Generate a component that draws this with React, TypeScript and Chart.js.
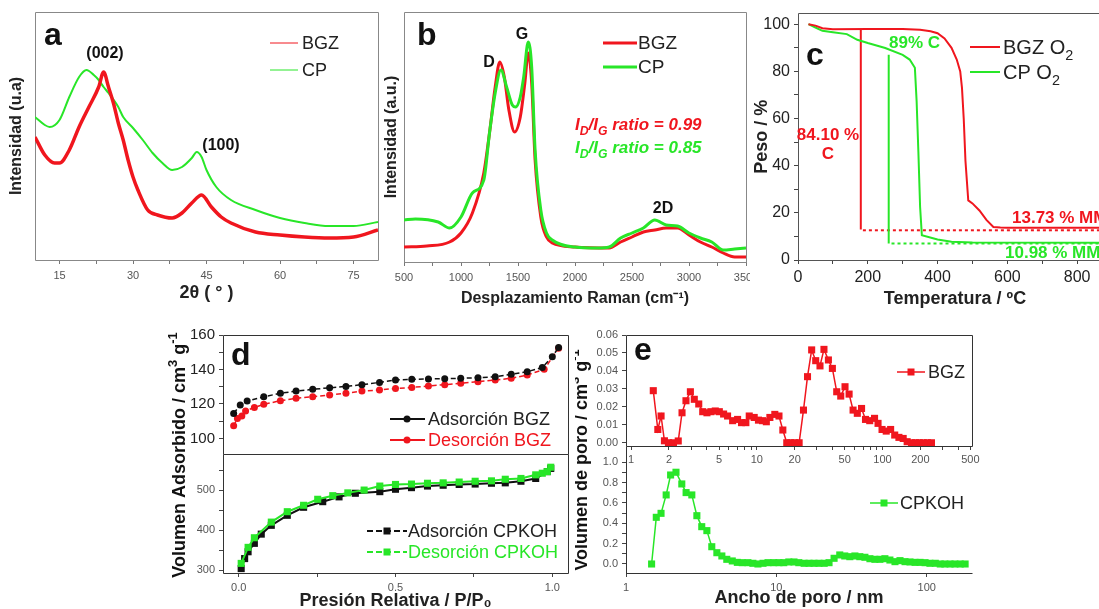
import React, { useEffect, useRef } from 'react';
import { Chart, registerables } from 'chart.js';
Chart.register(...registerables);

const FONT = "'Liberation Sans', Arial, Helvetica, sans-serif";
Chart.defaults.font.family = FONT;
Chart.defaults.color = '#222';

const RED = 'rgb(240,22,30)';
const GREEN = 'rgb(40,230,40)';
const BLACK = '#111';

// ---------- (a) XRD ----------
const xrdBgzAngle = [10, 12, 14, 15, 17, 19, 21, 23, 24, 25, 26, 27, 28, 29, 30, 31, 33, 35, 38, 40, 42, 44, 46, 48, 50, 55, 60, 65, 70, 75, 80];
const xrdBgzIntensity = [123, 105, 97, 97, 110, 133, 153, 173, 188, 173, 157, 137, 120, 100, 83, 70, 50, 45, 42, 47, 57, 65, 53, 43, 37, 28, 25, 23, 22, 23, 30];
const xrdCpAngle = [10, 12, 13, 15, 17, 19, 20.5, 22, 23, 24, 25, 27, 28, 30, 32, 34, 36, 38, 40, 42, 43, 44, 45, 47, 50, 55, 60, 65, 70, 75, 80];
const xrdCpIntensity = [143, 135, 133, 140, 163, 183, 190, 185, 180, 173, 167, 153, 143, 132, 120, 107, 97, 90, 93, 102, 108, 103, 90, 73, 60, 50, 42, 37, 34, 34, 38];
const xrdTicks = [15, 22.5, 30, 37.5, 45, 52.5, 60, 67.5, 75];
const xrdLabels = [15, 30, 45, 60, 75];

// ---------- (b) Raman ----------
const ramanBgzShift = [500, 700, 900, 1000, 1100, 1200, 1250, 1300, 1340, 1380, 1420, 1470, 1520, 1560, 1590, 1620, 1650, 1700, 1750, 1800, 2000, 2300, 2400, 2500, 2600, 2700, 2800, 2900, 3000, 3100, 3200, 3300, 3400, 3500];
const ramanBgzIntensity = [15, 16, 20, 29, 49, 89, 129, 175, 200, 185, 152, 130, 145, 179, 209, 179, 102, 45, 25, 19, 15, 14, 20, 25, 30, 32, 34, 34, 27, 20, 15, 9, 5, 5];
const ramanCpShift = [500, 600, 800, 900, 1000, 1100, 1200, 1250, 1300, 1350, 1400, 1450, 1480, 1520, 1550, 1590, 1620, 1650, 1700, 1750, 1800, 2000, 2200, 2300, 2400, 2500, 2600, 2700, 2800, 2900, 3000, 3100, 3200, 3300, 3400, 3500];
const ramanCpIntensity = [42, 43, 40, 34, 45, 69, 82, 129, 169, 192, 175, 157, 155, 165, 185, 220, 195, 112, 52, 29, 22, 15, 14, 15, 24, 29, 34, 42, 37, 36, 29, 24, 20, 12, 13, 14];
const ramanTicks = [500, 750, 1000, 1250, 1500, 1750, 2000, 2250, 2500, 2750, 3000, 3250, 3500];
const ramanLabels = [500, 1000, 1500, 2000, 2500, 3000, 3500];

// ---------- (c) TGA ----------
const tgaBgzTemp = [30, 50, 70, 100, 200, 300, 350, 380, 400, 420, 440, 455, 465, 470, 475, 480, 488, 500, 520, 540, 560, 580, 600, 900];
const tgaBgzWeight = [100, 99.4, 98.3, 97.9, 98, 98, 97.6, 97, 96.2, 94, 90, 85, 80, 73, 60, 42, 25.3, 24, 21, 17, 14, 13.8, 13.7, 13.7];
const tgaCpTemp = [30, 50, 70, 100, 140, 170, 200, 250, 300, 320, 335, 340, 345, 350, 355, 400, 440, 500, 900];
const tgaCpWeight = [100, 98.6, 97.2, 96.6, 95.8, 93.4, 92, 89.9, 87, 85, 81.5, 67.4, 46, 22.5, 10.5, 8.7, 7.7, 7.4, 7.3];
const tgaBgzCarbonTemp = [180, 180];
const tgaBgzCarbonWeight = [97.6, 12.9];
const tgaBgzResidueTemp = [186, 900];
const tgaBgzResidueWeight = [12.6, 12.6];
const tgaCpCarbonTemp = [260, 260];
const tgaCpCarbonWeight = [87, 7];
const tgaCpResidueTemp = [268, 900];
const tgaCpResidueWeight = [7.0, 7.0];
const tgaXTicks = [0, 100, 200, 300, 400, 500, 600, 700, 800, 900];
const tgaXLabels = [0, 200, 400, 600, 800];
const tgaYTicks = [0, 10, 20, 30, 40, 50, 60, 70, 80, 90, 100];
const tgaYLabels = [0, 20, 40, 60, 80, 100];

// ---------- (d) isotherms ----------
const bgzAdsP = [-0.016, 0.005, 0.027, 0.08, 0.133, 0.183, 0.236, 0.29, 0.342, 0.393, 0.449, 0.5, 0.552, 0.605, 0.657, 0.708, 0.763, 0.818, 0.869, 0.92, 0.968, 1.0, 1.02];
const bgzAdsV = [114.5, 119.4, 121.7, 124.2, 126.2, 127.5, 128.5, 129.4, 130.2, 131.2, 132.5, 133.9, 134.3, 134.5, 134.7, 134.9, 135.2, 135.8, 137.2, 138.7, 141.2, 147.4, 152.8];
const bgzDesP = [-0.016, -0.004, 0.01, 0.022, 0.05, 0.08, 0.133, 0.183, 0.236, 0.29, 0.342, 0.393, 0.449, 0.5, 0.552, 0.605, 0.657, 0.708, 0.763, 0.818, 0.869, 0.92, 0.974, 1.02];
const bgzDesV = [107.4, 111.6, 113, 116, 118, 119.8, 121.9, 123.3, 124.2, 125.2, 126.2, 127.5, 128.1, 129, 129.6, 130.4, 131.2, 132, 132.9, 133.9, 134.9, 136.8, 140.1, 152.3];
const cpAdsP = [0.008, 0.019, 0.03, 0.05, 0.072, 0.104, 0.155, 0.207, 0.268, 0.32, 0.372, 0.45, 0.5, 0.551, 0.602, 0.652, 0.703, 0.754, 0.806, 0.85, 0.9, 0.947, 0.984, 0.995];
const cpAdsV = [304, 329, 346, 367, 390, 412, 437, 457, 471, 483, 492, 496, 502, 506, 510, 512, 514, 515, 517, 518, 522, 529, 546, 554];
const cpDesP = [0.008, 0.03, 0.05, 0.104, 0.155, 0.207, 0.252, 0.3, 0.348, 0.4, 0.45, 0.5, 0.551, 0.602, 0.652, 0.703, 0.754, 0.806, 0.85, 0.9, 0.947, 0.968, 0.984, 0.995];
const cpDesV = [317, 357, 381, 420, 446, 462, 477, 486, 493, 500, 510, 514, 515, 517, 518, 520, 522, 523, 527, 529, 538, 542, 546, 557];
const isoPTicks = [0, 0.25, 0.5, 0.75, 1.0];
const isoPLabels = [0, 0.5, 1.0];
const isoBgzTicks = [100, 110, 120, 130, 140, 150, 160];
const isoBgzLabels = [100, 120, 140, 160];
const isoCpTicks = [300, 350, 400, 450, 500, 550];
const isoCpLabels = [300, 400, 500];

// ---------- (e) pore size distribution ----------
const psdBgzWidth = [1.5, 1.63, 1.73, 1.84, 1.98, 2.17, 2.37, 2.54, 2.73, 2.96, 3.18, 3.45, 3.71, 4.01, 4.31, 4.67, 5.03, 5.44, 5.85, 6.42, 7.03, 7.55, 8.18, 8.7, 9.53, 10.3, 11.1, 11.9, 12.7, 13.9, 15.0, 16.1, 17.3, 18.6, 20.0, 21.7, 23.5, 25.3, 27.3, 29.4, 31.8, 34.2, 37.1, 39.9, 43.2, 46.5, 50.3, 54.2, 58.3, 63.0, 68.1, 73.2, 79.1, 86.4, 92.1, 99.1, 107, 116, 125, 135, 146, 157, 170, 183, 196, 211, 228, 245];
const psdBgzVolume = [0.029, 0.0074, 0.0149, 0.0011, 0, 0, 0.001, 0.0167, 0.0234, 0.0284, 0.0242, 0.0216, 0.0173, 0.0167, 0.0173, 0.0177, 0.0173, 0.016, 0.0149, 0.0123, 0.013, 0.0112, 0.0112, 0.0149, 0.0141, 0.0126, 0.0123, 0.0117, 0.0141, 0.0158, 0.0149, 0.0071, 0, 0, 0, 0, 0.0182, 0.0368, 0.0517, 0.0457, 0.0428, 0.052, 0.0461, 0.0414, 0.0284, 0.026, 0.0312, 0.0271, 0.0182, 0.0164, 0.0191, 0.013, 0.0123, 0.0136, 0.0108, 0.0074, 0.0065, 0.0074, 0.0043, 0.003, 0.0024, 0.0006, 0, 0, 0, 0, 0, 0];
const psdCpWidth = [1.48, 1.59, 1.71, 1.85, 1.98, 2.15, 2.35, 2.51, 2.74, 2.96, 3.19, 3.45, 3.72, 4.02, 4.34, 4.68, 5.09, 5.5, 5.93, 6.47, 6.98, 7.54, 8.15, 8.8, 9.6, 10.4, 11.2, 12.1, 13.1, 14.1, 15.3, 16.5, 17.8, 19.2, 20.8, 22.4, 24.2, 26.4, 28.5, 30.8, 33.3, 35.9, 38.8, 41.9, 45.2, 48.8, 52.7, 56.9, 61.5, 66.4, 71.7, 77.4, 83.6, 90.3, 97.5, 105, 114, 123, 132, 143, 154, 167, 180];
const psdCpVolume = [0, 0.459, 0.498, 0.679, 0.875, 0.902, 0.787, 0.702, 0.679, 0.475, 0.367, 0.328, 0.17, 0.111, 0.079, 0.046, 0.03, 0.016, 0.013, 0.013, 0.007, 0, 0.007, 0.013, 0.013, 0.013, 0.013, 0.02, 0.02, 0.013, 0.007, 0.007, 0.007, 0.007, 0.007, 0.013, 0.056, 0.089, 0.079, 0.072, 0.079, 0.072, 0.066, 0.052, 0.046, 0.046, 0.052, 0.039, 0.023, 0.033, 0.023, 0.02, 0.016, 0.016, 0.013, 0.007, 0.007, 0, 0, 0, 0, 0, 0];
const psdTopXTicks = [1, 2, 3, 4, 5, 6, 7, 8, 9, 10, 20, 30, 40, 50, 60, 70, 80, 90, 100, 200, 300, 400, 500];
const psdTopXLabels = [1, 2, 5, 10, 20, 50, 100, 200, 500];
const psdTopYTicks = [0, 0.01, 0.02, 0.03, 0.04, 0.05, 0.06];
const psdBotXTicks = [1, 10, 100];
const psdBotYTicks = [0, 0.1, 0.2, 0.3, 0.4, 0.5, 0.6, 0.7, 0.8, 0.9, 1.0];
const psdBotYLabels = [0, 0.2, 0.4, 0.6, 0.8, 1.0];

// ---------- helpers ----------
type Seg = { t: string; sub?: boolean; sup?: boolean };
type Item = any;

const T = (x: number, y: number, text: string | Seg[], size: number, color = '#222', o: any = {}): Item => ({
  kind: 'text', x, y, segs: typeof text === 'string' ? [{ t: text }] : text, size, color, ...o,
});
const L = (x1: number, y1: number, x2: number, y2: number, color: string, width: number, dash?: number[]): Item => ({ kind: 'line', x1, y1, x2, y2, color, width, dash });
const M = (x: number, y: number, style: 'circle' | 'rect', r: number, color: string): Item => ({ kind: 'marker', x, y, style, r, color });

function drawText(ctx: CanvasRenderingContext2D, it: any) {
  const f = (s: number) => `${it.italic ? 'italic ' : ''}${it.bold ? 'bold ' : ''}${s}px ${FONT}`;
  const parts = it.segs.map((s: Seg) => {
    const sz = s.sub || s.sup ? it.size * 0.72 : it.size;
    ctx.font = f(sz);
    return { ...s, sz, w: ctx.measureText(s.t).width };
  });
  const total = parts.reduce((a: number, p: any) => a + p.w, 0);
  ctx.save();
  ctx.translate(it.x, it.y);
  if (it.rot) ctx.rotate(-Math.PI / 2);
  ctx.fillStyle = it.color;
  ctx.textBaseline = it.rot ? 'middle' : 'alphabetic';
  ctx.textAlign = 'left';
  let x = it.align === 'center' ? -total / 2 : it.align === 'right' ? -total : 0;
  for (const p of parts) {
    ctx.font = f(p.sz);
    const dy = p.sub ? it.size * 0.28 : p.sup ? -it.size * 0.36 : 0;
    ctx.fillText(p.t, x, dy);
    x += p.w;
  }
  ctx.restore();
}

function annotPlugin(items: Item[], ox: number, oy: number) {
  return {
    id: 'annot',
    afterDraw(chart: any) {
      const ctx: CanvasRenderingContext2D = chart.ctx;
      ctx.save();
      ctx.translate(-ox, -oy);
      for (const it of items) {
        if (it.kind === 'line') {
          ctx.beginPath();
          ctx.strokeStyle = it.color;
          ctx.lineWidth = it.width;
          ctx.setLineDash(it.dash || []);
          ctx.moveTo(it.x1, it.y1);
          ctx.lineTo(it.x2, it.y2);
          ctx.stroke();
          ctx.setLineDash([]);
        } else if (it.kind === 'marker') {
          ctx.fillStyle = it.color;
          if (it.style === 'circle') {
            ctx.beginPath();
            ctx.arc(it.x, it.y, it.r, 0, Math.PI * 2);
            ctx.fill();
          } else {
            ctx.fillRect(it.x - it.r, it.y - it.r, it.r * 2, it.r * 2);
          }
        } else {
          drawText(ctx, it);
        }
      }
      ctx.restore();
    },
  };
}

function framePlugin(sides: string, color: string) {
  return {
    id: 'frame',
    beforeDatasetsDraw(chart: any) {
      const { ctx, chartArea: a } = chart;
      const al = (v: number) => Math.round(v - 0.5) + 0.5;
      const l = al(a.left), r = al(a.right), t = al(a.top), b = al(a.bottom);
      ctx.save();
      ctx.strokeStyle = color;
      ctx.lineWidth = 1;
      ctx.beginPath();
      if (sides.includes('t')) { ctx.moveTo(l, t); ctx.lineTo(r, t); }
      if (sides.includes('b')) { ctx.moveTo(l, b); ctx.lineTo(r, b); }
      if (sides.includes('l')) { ctx.moveTo(l, t); ctx.lineTo(l, b); }
      if (sides.includes('r')) { ctx.moveTo(r, t); ctx.lineTo(r, b); }
      ctx.stroke();
      ctx.restore();
    },
  };
}

function mkAxis(o: any) {
  const horiz = o.pos === 'bottom' || o.pos === 'top';
  const ax: any = {
    type: o.type || 'linear',
    position: o.pos,
    min: o.min,
    max: o.max,
    display: o.display !== false,
  };
  if (o.display === false) return ax;
  ax.afterFit = (s: any) => {
    if (horiz) s.height = o.size;
    else s.width = o.size;
  };
  if (o.ticks) {
    ax.afterBuildTicks = (s: any) => {
      s.ticks = o.ticks.map((v: number) => ({ value: v }));
    };
    ax.grid = { display: true, drawOnChartArea: false, drawTicks: true, tickLength: o.tickLen ?? 4, color: o.tickColor || '#444', tickColor: o.tickColor || '#444', lineWidth: 1 };
    ax.ticks = {
      autoSkip: false, maxRotation: 0, minRotation: 0, padding: o.pad ?? 4, color: o.color || '#222',
      font: { size: o.fontSize || 11 },
      callback: (v: any) => {
        const n = Number(v);
        return o.labels.some((l: number) => Math.abs(l - n) < 1e-9 * Math.max(1, Math.abs(l))) ? o.fmt(n) : '';
      },
    };
  } else {
    ax.grid = { display: false };
    ax.ticks = { display: false };
  }
  ax.border = { display: false };
  ax.title = o.title
    ? { display: true, text: o.title, color: '#222', font: { size: o.titleSize || 16, weight: 'bold' }, padding: o.titlePad || { top: 0, bottom: 0 } }
    : { display: false };
  return ax;
}

const pts = (xs: number[], ys: number[]) => xs.map((x, i) => ({ x, y: ys[i] }));
const ds = (xs: number[], ys: number[], color: string, width: number, extra: any = {}) => ({
  data: pts(xs, ys), borderColor: color, backgroundColor: color, borderWidth: width, pointRadius: 0, tension: 0, ...extra,
});

const baseOpts = (padding: any, scales: any) => ({
  responsive: false,
  animation: false,
  devicePixelRatio: 1,
  layout: { padding },
  plugins: { legend: { display: false }, tooltip: { enabled: false } },
  events: [],
  scales,
});

const str = (v: number) => String(v);

type Rect = { left: number; top: number; w: number; h: number };

// ---------- chart builders ----------
const rectA: Rect = { left: 0, top: 0, w: 380, h: 310 };
const buildA = (r: Rect) => ({
  type: 'line',
  data: {
    datasets: [
      ds(xrdBgzAngle, xrdBgzIntensity, RED, 3.5, { cubicInterpolationMode: 'monotone' }),
      ds(xrdCpAngle, xrdCpIntensity, GREEN, 2, { cubicInterpolationMode: 'monotone' }),
    ],
  },
  options: baseOpts({ top: 12, right: 2, left: 0, bottom: 0 }, {
    x: mkAxis({ pos: 'bottom', min: 10, max: 80, size: 50, ticks: xrdTicks, labels: xrdLabels, fmt: str, tickLen: 4, pad: 5, fontSize: 11, color: '#555', tickColor: '#777', title: '2θ ( ° )', titleSize: 18, titlePad: { top: 0, bottom: 6 } }),
    y: mkAxis({ pos: 'left', min: 0, max: 248, size: 35, title: 'Intensidad (u.a)', titleSize: 16, titlePad: { top: 7, bottom: 0 } }),
  }),
  plugins: [
    framePlugin('tlrb', '#888'),
    annotPlugin([
      T(44, 45, 'a', 32, '#111', { bold: true }),
      T(105, 58, '(002)', 16, '#111', { bold: true, align: 'center' }),
      T(221, 150, '(100)', 16, '#111', { bold: true, align: 'center' }),
      L(270, 43, 298, 43, RED, 1),
      T(302, 49, 'BGZ', 18),
      L(270, 70, 298, 70, GREEN, 1),
      T(302, 76, 'CP', 18),
    ], r.left, r.top),
  ],
});

const rectB: Rect = { left: 380, top: 0, w: 385, h: 310 };
const buildB = (r: Rect) => ({
  type: 'line',
  data: {
    datasets: [
      ds(ramanCpShift, ramanCpIntensity, GREEN, 3, { cubicInterpolationMode: 'monotone' }),
      ds(ramanBgzShift, ramanBgzIntensity, RED, 3, { cubicInterpolationMode: 'monotone' }),
    ],
  },
  options: baseOpts({ top: 12, right: 19, left: 0, bottom: 0 }, {
    x: mkAxis({ pos: 'bottom', min: 500, max: 3500, size: 48, ticks: ramanTicks, labels: ramanLabels, fmt: str, tickLen: 4, pad: 5, fontSize: 11, color: '#555', tickColor: '#777', title: 'Desplazamiento Raman (cm⁻¹)', titleSize: 16, titlePad: { top: 0, bottom: 1.5 } }),
    y: mkAxis({ pos: 'left', min: 0, max: 250, size: 24, title: 'Intensidad (a.u.)', titleSize: 16, titlePad: { top: 2.4, bottom: 0 } }),
  }),
  plugins: [
    framePlugin('tlrb', '#888'),
    annotPlugin([
      T(417, 45, 'b', 32, '#111', { bold: true }),
      T(489, 67, 'D', 16, '#111', { bold: true, align: 'center' }),
      T(522, 39, 'G', 16, '#111', { bold: true, align: 'center' }),
      T(663, 213, '2D', 16, '#111', { bold: true, align: 'center' }),
      L(603, 43, 637, 43, RED, 3),
      T(638, 49, 'BGZ', 19),
      L(603, 67, 637, 67, GREEN, 3),
      T(638, 73, 'CP', 19),
      T(575, 130, [{ t: 'I' }, { t: 'D', sub: true }, { t: '/I' }, { t: 'G', sub: true }, { t: ' ratio = 0.99' }], 17, RED, { bold: true, italic: true }),
      T(575, 153, [{ t: 'I' }, { t: 'D', sub: true }, { t: '/I' }, { t: 'G', sub: true }, { t: ' ratio = 0.85' }], 17, GREEN, { bold: true, italic: true }),
    ], r.left, r.top),
  ],
});

const rectC: Rect = { left: 750, top: 0, w: 370, h: 310 };
const buildC = (r: Rect) => ({
  type: 'line',
  data: {
    datasets: [
      ds(tgaBgzTemp, tgaBgzWeight, RED, 2),
      ds(tgaCpTemp, tgaCpWeight, GREEN, 2),
      ds(tgaBgzCarbonTemp, tgaBgzCarbonWeight, RED, 2),
      ds(tgaCpCarbonTemp, tgaCpCarbonWeight, GREEN, 2),
      ds(tgaBgzResidueTemp, tgaBgzResidueWeight, RED, 2, { borderDash: [3, 3] }),
      ds(tgaCpResidueTemp, tgaCpResidueWeight, GREEN, 2, { borderDash: [3, 3] }),
    ],
  },
  options: baseOpts({ top: 12, right: 8, left: 0, bottom: 0 }, {
    x: mkAxis({ pos: 'bottom', min: 0, max: 900, size: 50, ticks: tgaXTicks, labels: tgaXLabels, fmt: str, tickLen: 4, pad: 4, fontSize: 16, color: '#222', tickColor: '#444', title: 'Temperatura / ºC', titleSize: 18, titlePad: { top: 0, bottom: 0 } }),
    y: mkAxis({ pos: 'left', min: 0, max: 104.5, size: 48, ticks: tgaYTicks, labels: tgaYLabels, fmt: str, tickLen: 4, pad: 4, fontSize: 16, color: '#222', tickColor: '#444', title: 'Peso / %', titleSize: 18, titlePad: { top: 1.2, bottom: 0 } }),
  }),
  plugins: [
    framePlugin('tlrb', '#555'),
    annotPlugin([
      T(806, 65, 'c', 32, '#111', { bold: true }),
      T(828, 140, '84.10 %', 17, RED, { bold: true, align: 'center' }),
      T(828, 159, 'C', 17, RED, { bold: true, align: 'center' }),
      T(889, 48, '89% C', 17, GREEN, { bold: true }),
      T(1012, 223, '13.73 % MM', 17, RED, { bold: true }),
      T(1005, 258, '10.98 % MM', 17, GREEN, { bold: true }),
      L(970, 47, 1000, 47, RED, 2),
      T(1003, 54, [{ t: 'BGZ O' }, { t: '2', sub: true }], 20),
      L(970, 72, 1000, 72, GREEN, 2),
      T(1003, 79, [{ t: 'CP O' }, { t: '2', sub: true }], 20),
    ], r.left, r.top),
  ],
});

// taller canvas with bottom padding so the y-label padding does not shrink the plot
const rectDTop: Rect = { left: 160, top: 320, w: 415, h: 150 };
const buildDTop = (r: Rect) => ({
  type: 'line',
  data: {
    datasets: [
      ds(bgzAdsP, bgzAdsV, BLACK, 1.5, { borderDash: [5, 3], pointRadius: 3.5, pointStyle: 'circle', pointBorderWidth: 0 }),
      ds(bgzDesP, bgzDesV, RED, 1.5, { borderDash: [5, 3], pointRadius: 3.5, pointStyle: 'circle', pointBorderWidth: 0 }),
    ],
  },
  options: baseOpts({ top: 15, right: 7, left: 0, bottom: 16 }, {
    x: mkAxis({ pos: 'bottom', min: -0.05, max: 1.05, display: false }),
    y: mkAxis({ pos: 'left', min: 91, max: 160, size: 63, ticks: isoBgzTicks, labels: isoBgzLabels, fmt: str, tickLen: 4, pad: 4, fontSize: 15, color: '#222', tickColor: '#444' }),
  }),
  plugins: [
    framePlugin('tlrb', '#333'),
    annotPlugin([
      T(231, 365, 'd', 32, '#111', { bold: true }),
      L(390, 419, 425, 419, BLACK, 2),
      M(407, 419, 'circle', 3.5, BLACK),
      T(428, 425, 'Adsorción BGZ', 18),
      L(390, 440, 425, 440, RED, 2),
      M(407, 440, 'circle', 3.5, RED),
      T(428, 446, 'Desorción BGZ', 18, RED),
    ], r.left, r.top),
  ],
});

const rectDBot: Rect = { left: 160, top: 320, w: 415, h: 292 };
const buildDBot = (r: Rect) => ({
  type: 'line',
  data: {
    datasets: [
      ds(cpDesP, cpDesV, GREEN, 2, { pointRadius: 5, pointStyle: 'rect', pointBorderWidth: 0 }),
      ds(cpAdsP, cpAdsV, BLACK, 2, { pointRadius: 5, pointStyle: 'rect', pointBorderWidth: 0 }),
    ],
  },
  options: baseOpts({ top: 134, right: 7, left: 0, bottom: 0 }, {
    x: mkAxis({ pos: 'bottom', min: -0.05, max: 1.05, size: 39, ticks: isoPTicks, labels: isoPLabels, fmt: (v: number) => v.toFixed(1), tickLen: 4, pad: 4, fontSize: 11, color: '#555', tickColor: '#444', title: 'Presión Relativa / P/P₀', titleSize: 18, titlePad: { top: 0, bottom: 0 } }),
    y: mkAxis({ pos: 'left', min: 293, max: 590, size: 63, ticks: isoCpTicks, labels: isoCpLabels, fmt: str, tickLen: 4, pad: 4, fontSize: 11, color: '#555', tickColor: '#444' }),
  }),
  plugins: [
    framePlugin('lrb', '#333'),
    annotPlugin([
      L(367, 531, 407, 531, BLACK, 2, [6, 3]),
      M(387, 531, 'rect', 3.5, BLACK),
      T(408, 537, 'Adsorción CPKOH', 18),
      L(367, 552, 407, 552, GREEN, 2, [6, 3]),
      M(387, 552, 'rect', 3.5, GREEN),
      T(408, 558, 'Desorción CPKOH', 18, GREEN),
      T(180, 455, [{ t: 'Volumen Adsorbido / cm' }, { t: '3', sup: true }, { t: ' g' }, { t: '-1', sup: true }], 18, '#111', { bold: true, rot: true, align: 'center' }),
    ], r.left, r.top),
  ],
});

const rectETop: Rect = { left: 575, top: 320, w: 410, h: 150 };
const buildETop = (r: Rect) => ({
  type: 'line',
  data: {
    datasets: [
      ds(psdBgzWidth, psdBgzVolume, RED, 1.5, { pointRadius: 5, pointStyle: 'rect', pointBorderWidth: 0 }),
    ],
  },
  options: baseOpts({ top: 15, right: 13, left: 0, bottom: 0 }, {
    x: mkAxis({ type: 'logarithmic', pos: 'bottom', min: 0.91, max: 515, size: 24, ticks: psdTopXTicks, labels: psdTopXLabels, fmt: str, tickLen: 4, pad: 3, fontSize: 11, color: '#555', tickColor: '#444' }),
    y: mkAxis({ pos: 'left', min: -0.0018, max: 0.06, size: 51, ticks: psdTopYTicks, labels: psdTopYTicks, fmt: (v: number) => v.toFixed(2), tickLen: 4, pad: 4, fontSize: 11, color: '#555', tickColor: '#444' }),
  }),
  plugins: [
    framePlugin('tlrb', '#333'),
    annotPlugin([
      T(634, 360, 'e', 32, '#111', { bold: true }),
      L(897, 372, 925, 372, RED, 1.5),
      M(911, 372, 'rect', 3.5, RED),
      T(928, 378, 'BGZ', 18),
    ], r.left, r.top),
  ],
});

const rectEBot: Rect = { left: 575, top: 320, w: 410, h: 292 };
const buildEBot = (r: Rect) => ({
  type: 'line',
  data: {
    datasets: [
      ds(psdCpWidth, psdCpVolume, GREEN, 1.5, { pointRadius: 5, pointStyle: 'rect', pointBorderWidth: 0 }),
    ],
  },
  options: baseOpts({ top: 126, right: 13, left: 0, bottom: 0 }, {
    x: mkAxis({ type: 'logarithmic', pos: 'bottom', min: 1, max: 200, size: 39, ticks: psdBotXTicks, labels: psdBotXTicks, fmt: str, tickLen: 4, pad: 4, fontSize: 11, color: '#555', tickColor: '#444', title: 'Ancho de poro / nm', titleSize: 18, titlePad: { top: 0, bottom: 3 } }),
    y: mkAxis({ pos: 'left', min: -0.0885, max: 1.16, size: 51, ticks: psdBotYTicks, labels: psdBotYLabels, fmt: (v: number) => v.toFixed(1), tickLen: 4, pad: 4, fontSize: 11, color: '#555', tickColor: '#444' }),
  }),
  plugins: [
    framePlugin('lb', '#333'),
    annotPlugin([
      L(870, 503, 898, 503, GREEN, 1.5),
      M(884, 503, 'rect', 3.5, GREEN),
      T(900, 509, 'CPKOH', 18),
      T(582, 460, [{ t: 'Volumen de poro / cm' }, { t: '3', sup: true }, { t: ' g' }, { t: '-1', sup: true }], 18, '#111', { bold: true, rot: true, align: 'center' }),
    ], r.left, r.top),
  ],
});

function ChartCanvas({ rect, build, bg }: { rect: Rect; build: (r: Rect) => any; bg?: string }) {
  const ref = useRef<HTMLCanvasElement>(null);
  useEffect(() => {
    const c = ref.current;
    if (!c) return;
    const chart = new Chart(c, build(rect));
    return () => chart.destroy();
  }, []);
  return (
    <canvas
      ref={ref}
      width={rect.w}
      height={rect.h}
      style={{ position: 'absolute', left: rect.left, top: rect.top, width: rect.w, height: rect.h, background: bg || 'transparent' }}
    />
  );
}

export default function App() {
  return (
    <div style={{ position: 'fixed', left: 0, top: 0, width: 1099, height: 609, overflow: 'hidden', background: '#fff' }}>
      <ChartCanvas rect={rectA} build={buildA} />
      <ChartCanvas rect={rectB} build={buildB} />
      <ChartCanvas rect={rectC} build={buildC} bg="#fff" />
      <ChartCanvas rect={rectDTop} build={buildDTop} />
      <ChartCanvas rect={rectDBot} build={buildDBot} />
      <ChartCanvas rect={rectETop} build={buildETop} />
      <ChartCanvas rect={rectEBot} build={buildEBot} />
    </div>
  );
}
